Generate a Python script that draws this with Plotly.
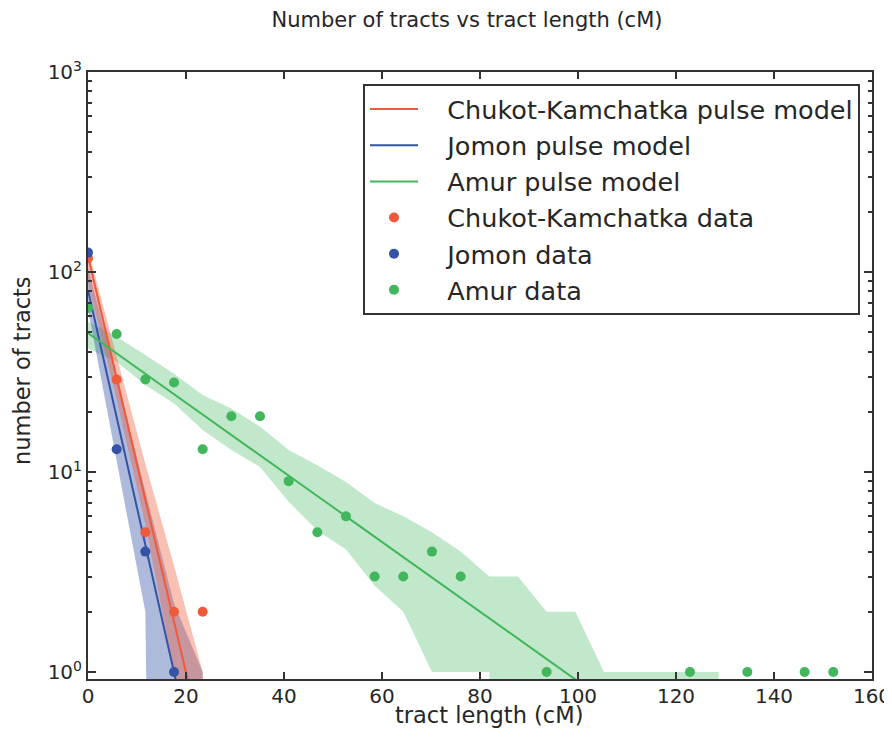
import plotly.graph_objects as go

# ---- data -------------------------------------------------------------
bin_centers = [0.0, 5.85, 11.7, 17.55, 23.4, 29.25, 35.1, 40.95, 46.8, 52.65,
               58.5, 64.35, 70.2, 76.05, 81.9, 87.75, 93.6, 99.45, 105.3,
               111.15, 117.0, 122.85, 128.7, 134.55, 140.4, 146.25, 152.1]

# observed counts (None = empty bin)
chukot_data = [117, 29, 5, 2, 2]
jomon_data = [125, 13, 4, 1]
amur_data = [66, 49, 29, 28, 13, 19, 19, 9, 5, 6, 3, 3, 4, 3, None, None, 1,
             None, None, None, None, 1, None, 1, None, 1, 1]

# pulse-model expectations
chukot_model = [120.2, 29.5, 7.24, 1.78, 0.44]
jomon_model = [81.3, 18.8, 4.35, 1.0, 0.23]
amur_model = [49.5, 39.2, 31.0, 24.5, 19.4, 15.3, 12.1, 9.59, 7.59, 6.0, 4.75,
              3.75, 2.97, 2.35, 1.86, 1.47, 1.16, 0.918, 0.726]

# confidence bands (upper / lower), 0 = empty
chukot_upper = [130, 38, 11, 3.4, 1, 0]
chukot_lower = [89, 23, 5.5, 1, 0, 0]
jomon_upper = [105, 30, 8, 2.2, 1, 0]
jomon_lower = [65, 11.5, 2, 0, 0, 0]
amur_upper = [56.5, 47.5, 38.5, 31, 24.3, 20.8, 16.9, 12.9, 10.8, 8.9, 7, 6, 5,
              4, 3, 3, 2, 2, 1, 1, 1, 1, 1, 0]
amur_lower = [41.5, 35.6, 27.2, 22, 16.2, 12.9, 10.6, 7.1, 5.1, 4.1, 2.7, 2, 1,
              1, 1, 0, 0, 0, 0, 0, 0, 0, 0, 0]

x_ticks = [0, 20, 40, 60, 80, 100, 120, 140, 160]
y_tickvals = [1, 10, 100, 1000]
y_ticktext = ["10<sup>0</sup>", "10<sup>1</sup>", "10<sup>2</sup>", "10<sup>3</sup>"]

RED = "#EF5A3A"
BLUE = "#3453A4"
GREEN = "#42B65D"
FLOOR = 1e-10  # like matplotlib's log clipping of zeros
PAD = "\u00a0\u00a0\u00a0"

# ---- figure -----------------------------------------------------------
fig = go.Figure()


def band(upper, lower, rgba):
    n = len(upper)
    xs = bin_centers[:n]
    up = [max(v, FLOOR) for v in upper]
    lo = [max(v, FLOOR) for v in lower]
    fig.add_trace(go.Scatter(
        x=xs + xs[::-1], y=up + lo[::-1], mode="lines", fill="toself",
        fillcolor=rgba, line=dict(width=0), hoverinfo="skip", showlegend=False))


band(amur_upper, amur_lower, "rgba(66,182,93,0.32)")
band(jomon_upper, jomon_lower, "rgba(52,83,164,0.40)")
band(chukot_upper, chukot_lower, "rgba(239,90,58,0.38)")

for name, vals, col, grp in [
    ("Chukot-Kamchatka pulse model", chukot_model, RED, "a"),
    ("Jomon pulse model", jomon_model, BLUE, "b"),
    ("Amur pulse model", amur_model, GREEN, "c"),
]:
    fig.add_trace(go.Scatter(x=bin_centers[:len(vals)], y=vals, mode="lines",
                             line=dict(color=col, width=2), name=PAD + name,
                             legendgroup=grp))

for name, vals, col, grp in [
    ("Chukot-Kamchatka data", chukot_data, RED, "d"),
    ("Jomon data", jomon_data, BLUE, "e"),
    ("Amur data", amur_data, GREEN, "f"),
]:
    xs = [x for x, v in zip(bin_centers, vals) if v is not None]
    ys = [v for v in vals if v is not None]
    fig.add_trace(go.Scatter(x=xs, y=ys, mode="markers",
                             marker=dict(color=col, size=10, line=dict(width=0)),
                             name=PAD + name, legendgroup=grp))

AX = "#262626"
# the page body adds an 8px margin; size the figure so that the page does not
# overflow (no scrollbars) and the plot lands where the reference has it
OFF = 8
W, H = 892 - OFF, 738 - 2 * OFF - 2
PL, PR, PT, PB = 88, 872, 72, 679   # plot-area edges in page pixels
PW, PH = PR - PL, PB - PT
fig.update_layout(
    width=W, height=H,
    margin=dict(l=PL - OFF, r=892 - PR, t=PT - OFF, b=(H + OFF) - PB),
    paper_bgcolor="white", plot_bgcolor="white",
    font=dict(family="DejaVu Sans", color=AX),
    title=dict(text="Number of tracts vs tract length (cM)", x=(467 - OFF) / W,
               xref="container", xanchor="center",
               y=1 - (20 - OFF) / H, yanchor="middle", font=dict(size=21, color=AX)),
    showlegend=True,
    legend=dict(x=(363 - PL) / PW, y=1 - 12 / PH, xanchor="left", yanchor="top",
                bgcolor="white", bordercolor="#333333", borderwidth=2,
                font=dict(size=25.5, color=AX), tracegroupgap=0,
                itemwidth=48),
    xaxis=dict(range=[0, 160], tickvals=x_ticks, ticks="inside", ticklen=7,
               tickwidth=2, tickcolor="#333333", showline=True, linewidth=2,
               linecolor="#333333", mirror="allticks", showgrid=False,
               zeroline=False, tickfont=dict(size=20, color=AX),
               automargin=False, ticklabeloverflow="allow",
               ticklabelstandoff=-2),
    yaxis=dict(type="log", range=[-0.035, 3], tickvals=y_tickvals,
               ticktext=y_ticktext, ticks="inside", ticklen=8, tickwidth=2,
               tickcolor="#333333", showline=True, linewidth=2,
               linecolor="#333333", mirror="allticks", showgrid=False,
               zeroline=False, tickfont=dict(size=20, color=AX),
               automargin=False, ticklabeloverflow="allow",
               minor=dict(dtick="D1", ticks="inside", ticklen=4, tickwidth=1.5,
                          tickcolor="#333333", showgrid=False)),
    annotations=[
        dict(text="tract length (cM)", xref="paper", yref="paper",
             x=(489 - PL) / PW, y=(PB - 715) / PH, xanchor="center",
             yanchor="middle", showarrow=False, font=dict(size=22.5, color=AX)),
        dict(text="number of tracts", xref="paper", yref="paper",
             x=(22 - PL) / PW, y=(PB - 371) / PH, xanchor="center",
             yanchor="middle", textangle=-90, showarrow=False,
             font=dict(size=22.5, color=AX)),
    ],
)

fig.write_html("out.html")
